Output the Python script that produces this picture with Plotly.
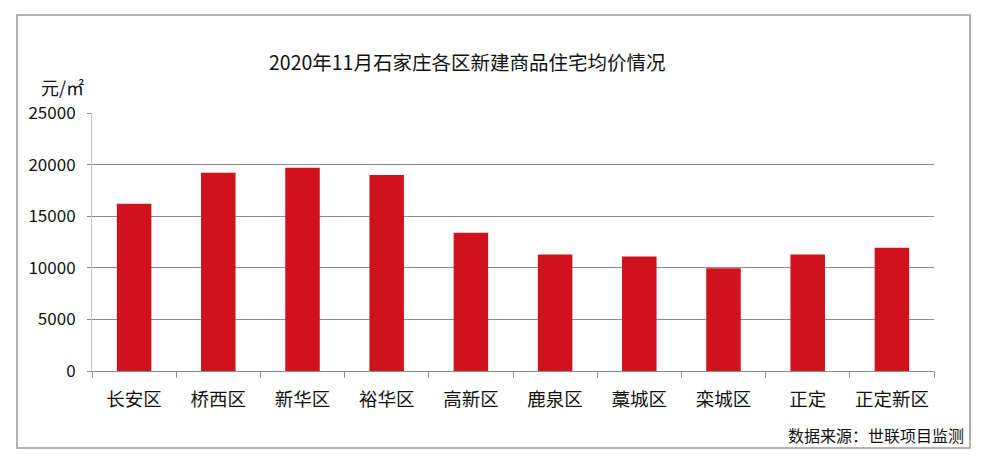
import plotly.graph_objects as go

categories = ["长安区", "桥西区", "新华区", "裕华区", "高新区", "鹿泉区", "藁城区", "栾城区", "正定", "正定新区"]
prices = [16200, 19200, 19700, 19000, 13400, 11300, 11100, 9950, 11300, 11950]
y_ticks = [0, 5000, 10000, 15000, 20000, 25000]

OFF = 8  # page body margin offset
W, H = 987 - OFF, 466 - OFF
L, T = 92 - OFF, 113 - OFF
R = W - (934 - OFF)
B = H - (371 - OFF)
pw, ph = W - L - R, H - T - B

def px(x):
    return (x - OFF - L) / pw

def py(y):
    return (H - B - (y - OFF)) / ph

font = "Noto Sans CJK SC, Noto Sans, sans-serif"

fig = go.Figure(go.Bar(
    x=categories, y=prices,
    marker=dict(color="#D0121C", line=dict(width=0)),
    width=0.41,
))

fig.update_layout(
    width=W, height=H,
    margin=dict(l=L, r=R, t=T, b=B),
    paper_bgcolor="white", plot_bgcolor="white",
    showlegend=False,
    font=dict(family=font, color="#222"),
    xaxis=dict(
        showline=True, linecolor="#8c8c8c", linewidth=1,
        ticks="outside", tickson="boundaries", ticklen=6, tickcolor="#8c8c8c",
        tickfont=dict(size=18.5, color="#111"),
        ticklabelstandoff=12,
        showgrid=False,
    ),
    yaxis=dict(
        range=[0, 25000], tickvals=y_ticks,
        ticktext=[str(v) for v in y_ticks],
        showline=True, linecolor="#c8c8c8", linewidth=1,
        showgrid=True, gridcolor="#8c8c8c", gridwidth=1,
        ticks="outside", ticklen=4, tickcolor="#8c8c8c",
        tickfont=dict(size=17, color="#111"),
        ticklabelstandoff=8,
        zeroline=False,
    ),
    shapes=[dict(
        type="rect", xref="paper", yref="paper",
        x0=px(17), x1=px(970), y0=py(448), y1=py(15),
        line=dict(color="#9a9a9a", width=1.5), fillcolor="rgba(0,0,0,0)",
        layer="below",
    )],
    annotations=[
        dict(text="2020年11月石家庄各区新建商品住宅均价情况", xref="paper", yref="paper",
             x=px(467), y=py(61), showarrow=False, xanchor="center", yanchor="middle",
             font=dict(size=19.5, color="#111")),
        dict(text="元/㎡", xref="paper", yref="paper",
             x=px(39), y=py(87), showarrow=False, xanchor="left", yanchor="middle",
             font=dict(size=18, color="#111")),
        dict(text="数据来源：世联项目监测", xref="paper", yref="paper",
             x=px(966), y=py(435), showarrow=False, xanchor="right", yanchor="middle",
             font=dict(size=16, color="#111")),
    ],
)

fig.write_html("out.html")
